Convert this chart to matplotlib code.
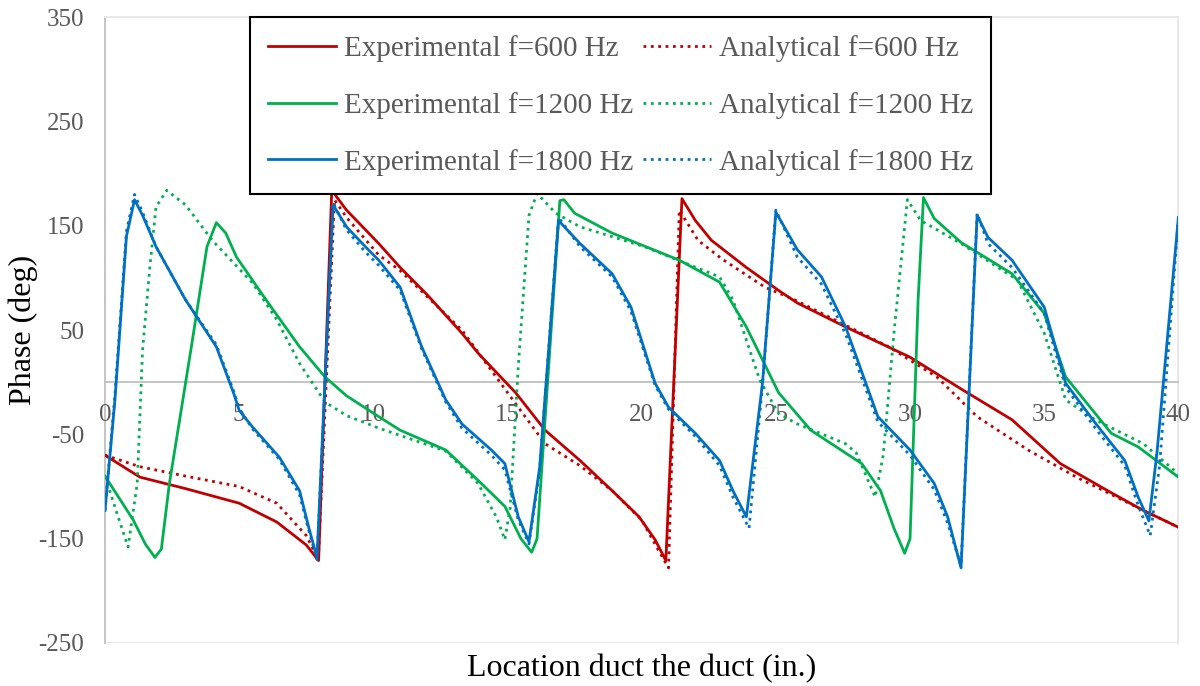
import matplotlib.pyplot as plt

plt.rcParams['font.family'] = ['Liberation Serif', 'DejaVu Serif']
plt.rcParams['axes.unicode_minus'] = False

# ---- data (location in., phase deg) ----
x_exp600 = [0, 1.3, 3.0, 5.0, 6.4, 7.5, 7.96, 8.45, 9.0, 10.2, 11.0, 12.0, 13.3, 13.9, 15.3, 16.4,
            17.7, 18.9, 19.9, 20.5, 20.9, 21.5, 22.0, 22.6, 23.9, 25.1, 25.8, 27.6, 30.0, 32.0,
            33.8, 35.6, 37.5, 38.7, 40]
y_exp600 = [-70, -91, -102, -116, -134, -156, -171, 184, 165, 133, 110, 84, 47, 28, -10, -46,
            -75, -104, -129, -151, -171, 176, 155, 136, 110, 88, 76, 53, 24, -8,
            -36, -78, -106, -123, -139]

x_ana600 = [0, 1.3, 3.0, 5.0, 6.4, 7.5, 7.95, 8.55, 9.0, 10.2, 11.0, 13.3, 15.2, 16.4, 17.7, 18.9,
            20.0, 20.6, 21.0, 21.4, 22.1, 23.0, 24.6, 25.7, 29.2, 31.0, 32.5, 34.4, 36.2, 38.7, 40]
y_ana600 = [-70, -81, -90, -100, -116, -147, -170, 175, 158, 122, 107, 50, -17, -59, -80, -104,
            -132, -160, -178, 165, 136, 118, 91, 79, 34, 5, -33, -65, -91, -123, -139]

x_exp1200 = [0, 1.05, 1.5, 1.86, 2.1, 2.4, 3.2, 3.8, 4.15, 4.5, 4.9, 6.0, 7.25, 8.2, 9.0, 10.2,
             11.0, 12.7, 13.9, 14.9, 15.5, 15.9, 16.1, 16.95, 17.1, 17.5, 18.9, 21.4, 22.9, 23.9,
             25.1, 26.3, 28.2, 28.9, 29.4, 29.8, 30.0, 30.3, 30.5, 30.9, 31.9, 33.8, 35.0, 35.8,
             37.5, 38.5, 40]
y_exp1200 = [-90, -132, -155, -168, -160, -97, 31, 130, 153, 143, 120, 79, 34, 5, -13, -33,
             -46, -65, -94, -119, -150, -163, -150, 174, 175, 162, 143, 117, 96, 53,
             -10, -46, -78, -104, -140, -164, -150, 79, 177, 157, 134, 104, 66, 5,
             -49, -62, -91]

x_ana1200 = [0, 0.5, 0.86, 1.2, 1.4, 1.67, 1.9, 2.3, 3.0, 4.0, 5.5, 6.4, 7.25, 8.2, 9.0, 10.2, 11.0,
             12.7, 13.9, 14.6, 14.9, 15.1, 15.4, 15.8, 16.1, 16.8, 17.7, 20.1, 22.9, 23.4, 24.4,
             25.1, 25.8, 27.6, 28.0, 28.7, 29.0, 29.4, 29.9, 30.4, 31.9, 34.0, 35.0, 35.8, 36.9,
             38.7, 40]
y_ana1200 = [-90, -130, -158, -97, 31, 110, 168, 184, 170, 136, 95, 60, 18, -19, -32, -44, -51,
             -66, -97, -130, -151, -120, 15, 160, 181, 162, 149, 130, 101, 79, 2,
             -30, -40, -59, -68, -110, -70, 47, 175, 155, 133, 98, 47, -17, -36,
             -59, -88]

x_exp1800 = [0, 0.37, 0.8, 1.1, 1.4, 1.9, 3.0, 4.15, 4.8, 5.0, 5.5, 6.5, 7.25, 7.6, 7.9, 8.5, 9.0,
             9.7, 10.2, 11.0, 11.8, 12.7, 13.3, 14.4, 14.9, 15.4, 15.8, 16.2, 16.9, 17.7, 18.9,
             19.6, 20.5, 21.0, 22.0, 22.9, 23.4, 23.9, 24.5, 25.0, 25.8, 26.7, 27.6, 28.8, 30.0,
             30.9, 31.4, 31.9, 32.5, 32.9, 33.8, 35.0, 35.8, 36.9, 38.0, 38.5, 38.9, 39.2, 40]
y_exp1800 = [-123, -17, 140, 175, 160, 130, 79, 34, -11, -27, -43, -72, -104, -140, -168, 170, 149,
             130, 117, 91, 34, -17, -40, -65, -78, -129, -153, -81, 155, 133, 104,
             72, -1, -24, -49, -75, -104, -129, -1, 163, 127, 101, 53, -33, -65,
             -97, -129, -178, 160, 139, 117, 72, -1, -39, -75, -110, -133, -68, 158]

x_ana1800 = [0, 0.37, 0.8, 1.1, 1.4, 1.9, 3.0, 4.15, 4.8, 5.0, 5.5, 6.5, 7.25, 7.6, 7.9, 8.5, 9.0,
             9.7, 10.2, 11.0, 11.8, 12.7, 13.3, 14.4, 14.9, 15.4, 15.8, 16.2, 16.9, 17.7, 18.9,
             19.6, 20.5, 21.0, 22.0, 22.9, 23.4, 24.0, 24.5, 25.0, 25.8, 26.7, 27.6, 28.8, 30.0,
             30.9, 31.4, 31.9, 32.5, 32.9, 33.8, 35.0, 35.8, 36.9, 38.0, 38.5, 38.95, 39.3, 40]
y_ana1800 = [-123, -12, 145, 180, 163, 130, 79, 36, -9, -25, -45, -74, -108, -143, -170, 172, 146,
             125, 112, 88, 32, -19, -44, -70, -84, -132, -155, -84, 158, 130, 101,
             68, -3, -26, -52, -80, -110, -140, -3, 165, 120, 94, 46, -38, -70,
             -103, -135, -176, 162, 133, 110, 66, -5, -44, -80, -118, -147, -80, 158]

RED, GREEN, BLUE = '#C00000', '#00B050', '#0070C0'

fig = plt.figure(figsize=(12, 6.86), dpi=100)
ax = fig.add_axes([0.0875, 0.0627, 0.8945, 0.9123])

lw = 2.0
h1, = ax.plot(x_exp600, y_exp600, color=RED, lw=lw, label='Experimental f=600 Hz')
h2, = ax.plot(x_ana600, y_ana600, color=RED, lw=lw, ls=':', label='Analytical f=600 Hz')
h3, = ax.plot(x_exp1200, y_exp1200, color=GREEN, lw=lw, label='Experimental f=1200 Hz')
h4, = ax.plot(x_ana1200, y_ana1200, color=GREEN, lw=lw, ls=':', label='Analytical f=1200 Hz')
h5, = ax.plot(x_exp1800, y_exp1800, color=BLUE, lw=lw, label='Experimental f=1800 Hz')
h6, = ax.plot(x_ana1800, y_ana1800, color=BLUE, lw=lw, ls=':', label='Analytical f=1800 Hz')

ax.set_xlim(0, 40)
ax.set_ylim(-250, 350)
ax.set_xticks(range(0, 41, 5))
ax.set_yticks(range(-250, 351, 100))

# x axis sits on the zero line, plot-area border in light gray
ax.spines['bottom'].set_position(('data', 0))
ax.spines['bottom'].set_color('#BFBFBF')
ax.spines['left'].set_color('#BFBFBF')
ax.spines['top'].set_color('#E6E6E6')
ax.spines['right'].set_color('#E6E6E6')
for s in ax.spines.values():
    s.set_linewidth(1.3)
    s.set_zorder(0)
ax.axhline(-250, color='#E6E6E6', lw=1.3, zorder=0)

ax.tick_params(axis='both', length=0, labelsize=18, labelcolor='#595959')
ax.tick_params(axis='x', pad=16)
ax.tick_params(axis='y', pad=15)

ax.set_xlabel('Location duct the duct (in.)', fontsize=23)
ax.set_ylabel('Phase (deg)', fontsize=23)
ax.xaxis.set_label_coords(0.5, -0.017)
ax.yaxis.set_label_coords(-0.062, 0.5)

leg = ax.legend(handles=[h1, h3, h5, h2, h4, h6], ncol=2, loc='upper left',
                bbox_to_anchor=(0.135, 1.0), borderaxespad=0, fontsize=21,
                fancybox=False, framealpha=1, edgecolor='black',
                handlelength=2.33, labelspacing=1.02, columnspacing=0.34,
                handletextpad=0.27, borderpad=0.62)
leg.get_frame().set_linewidth(1.5)
for t in leg.get_texts():
    t.set_color('#595959')

fig.savefig('out.png', dpi=100)
